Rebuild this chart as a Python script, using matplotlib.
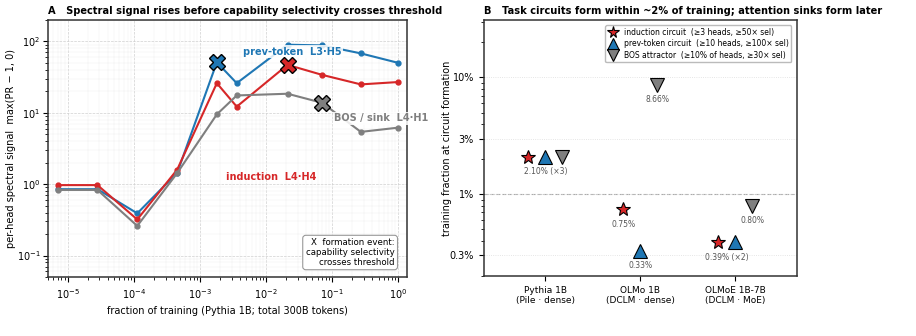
import numpy as np
import matplotlib
matplotlib.use("Agg")
import matplotlib.pyplot as plt
from matplotlib.ticker import FixedLocator, FixedFormatter, NullFormatter

# ---- panel A data: Pythia 1B checkpoints (fraction of training) ----
frac = [7e-6, 2.8e-5, 1.12e-4, 4.5e-4, 1.79e-3, 3.58e-3, 0.021, 0.07, 0.27, 1.0]
prev_token = [0.85, 0.85, 0.39, 1.44, 51, 26, 90, 88, 68, 50]
induction = [0.97, 0.97, 0.32, 1.6, 26, 12.2, 47, 34, 25, 27]
bos_sink = [0.83, 0.83, 0.26, 1.43, 9.5, 17.5, 18.5, 13.8, 5.4, 6.2]
# index of formation event on each curve
event_prev = 4
event_ind = 6
event_bos = 7

# ---- panel B data: training fraction (%) at circuit formation ----
models = ["Pythia 1B\n(Pile · dense)", "OLMo 1B\n(DCLM · dense)", "OLMoE 1B-7B\n(DCLM · MoE)"]
ind_pct = [2.10, 0.75, 0.39]
prev_pct = [2.10, 0.33, 0.39]
bos_pct = [2.10, 8.66, 0.80]

BLUE = "#1f77b4"
RED = "#d62728"
GRAY = "#7f7f7f"

plt.rcParams["font.family"] = ["DejaVu Sans"]
plt.rcParams["font.size"] = 7

fig = plt.figure(figsize=(9.16, 3.36), dpi=100)

# ================= panel A =================
ax = fig.add_axes([0.0524, 0.1756, 0.392, 0.765])
series = [(prev_token, BLUE, event_prev), (induction, RED, event_ind), (bos_sink, GRAY, event_bos)]
for vals, col, ev in series:
    ax.plot(frac, vals, "-o", color=col, lw=1.5, ms=3.5, zorder=3)
    ax.plot(frac[ev], vals[ev], "X", color=col, ms=12, mec="black", mew=1.0, zorder=5)

ax.set_xscale("log")
ax.set_yscale("log")
ax.set_xlim(5e-6, 1.35)
ax.set_ylim(0.05, 200)
ax.grid(True, which="major", ls="--", lw=0.5, color="#d0d0d0")
ax.grid(True, which="minor", ls="-", lw=0.3, color="#ececec")
ax.set_axisbelow(True)
ax.tick_params(axis="y", pad=2)

ax.text(2.5e-2, 72, "prev-token  L3·H5", color=BLUE, fontweight="bold", fontsize=7,
        ha="center", va="center", zorder=4,
        bbox=dict(fc="white", ec="none", alpha=0.85, pad=1))
ax.text(0.55, 8.4, "BOS / sink  L4·H1", color=GRAY, fontweight="bold", fontsize=7,
        ha="center", va="center", zorder=4,
        bbox=dict(fc="white", ec="none", alpha=0.85, pad=1))
ax.text(1.2e-2, 1.25, "induction  L4·H4", color=RED, fontweight="bold", fontsize=7,
        ha="center", va="center", zorder=4)

ax.text(0.965, 0.04, "X  formation event:\ncapability selectivity\ncrosses threshold",
        transform=ax.transAxes, ha="right", va="bottom", fontsize=6.2, linespacing=1.1,
        bbox=dict(boxstyle="round,pad=0.35", fc="white", ec="#999999", lw=0.8))

ax.set_xlabel("fraction of training (Pythia 1B; total 300B tokens)", fontsize=7)
ax.set_ylabel("per-head spectral signal  max(PR − 1, 0)", fontsize=7)
ax.yaxis.set_label_coords(-0.088, 0.5)
ax.set_title("A   Spectral signal rises before capability selectivity crosses threshold",
             loc="left", fontweight="bold", fontsize=7.1, pad=4)

# ================= panel B =================
bx = fig.add_axes([0.528, 0.1786, 0.3417, 0.762])
off = 0.18
xs = np.arange(len(models))
h1, = bx.plot(xs - off, ind_pct, "*", ls="none", color=RED, ms=10, mec="black", mew=0.8, zorder=4,
              label="induction circuit  (≥3 heads, ≥50× sel)")
h2, = bx.plot(xs, prev_pct, "^", ls="none", color=BLUE, ms=10, mec="black", mew=0.8, zorder=4,
              label="prev-token circuit  (≥10 heads, ≥100× sel)")
h3, = bx.plot(xs + off, bos_pct, "v", ls="none", color=GRAY, ms=10, mec="black", mew=0.8, zorder=4,
              label="BOS attractor  (≥10% of heads, ≥30× sel)")

# value labels, merging identical values
for i in range(len(models)):
    groups = {}
    for d, v in zip([-off, 0, off], [ind_pct[i], prev_pct[i], bos_pct[i]]):
        groups.setdefault(v, []).append(d)
    for v, ds in groups.items():
        txt = f"{v:.2f}%" + (f" (×{len(ds)})" if len(ds) > 1 else "")
        bx.annotate(txt, (i + np.mean(ds), v), xytext=(0, -11), textcoords="offset points",
                    ha="center", va="center", fontsize=5.5, color="#555555")

bx.set_yscale("log")
bx.set_ylim(0.2, 31)
bx.set_xlim(-0.65, 2.65)
bx.set_xticks(xs)
bx.set_xticklabels(models, fontsize=6.5)
bx.yaxis.set_major_locator(FixedLocator([0.3, 1, 3, 10]))
bx.yaxis.set_major_formatter(FixedFormatter(["0.3%", "1%", "3%", "10%"]))
bx.yaxis.set_minor_formatter(NullFormatter())
bx.grid(True, axis="y", which="major", ls=":", lw=0.6, color="#dddddd")
bx.axhline(1.0, ls="--", lw=0.8, color="#aaaaaa", zorder=1)
bx.set_ylabel("training fraction at circuit formation", fontsize=7)
bx.yaxis.set_label_coords(-0.1, 0.5)
bx.set_title("B   Task circuits form within ~2% of training; attention sinks form later",
             loc="left", fontweight="bold", fontsize=7.1, pad=4)
bx.legend(handles=[h1, h2, h3], loc="upper right", fontsize=5.5, frameon=True,
          handletextpad=0.6, borderpad=0.35, labelspacing=0.3, handlelength=1.5,
          markerscale=0.85, borderaxespad=0.7, edgecolor="#aaaaaa", fancybox=True)

for a in (ax, bx):
    for s in a.spines.values():
        s.set_linewidth(1.1)
        s.set_color("#333333")

fig.savefig("out.png", dpi=100)
